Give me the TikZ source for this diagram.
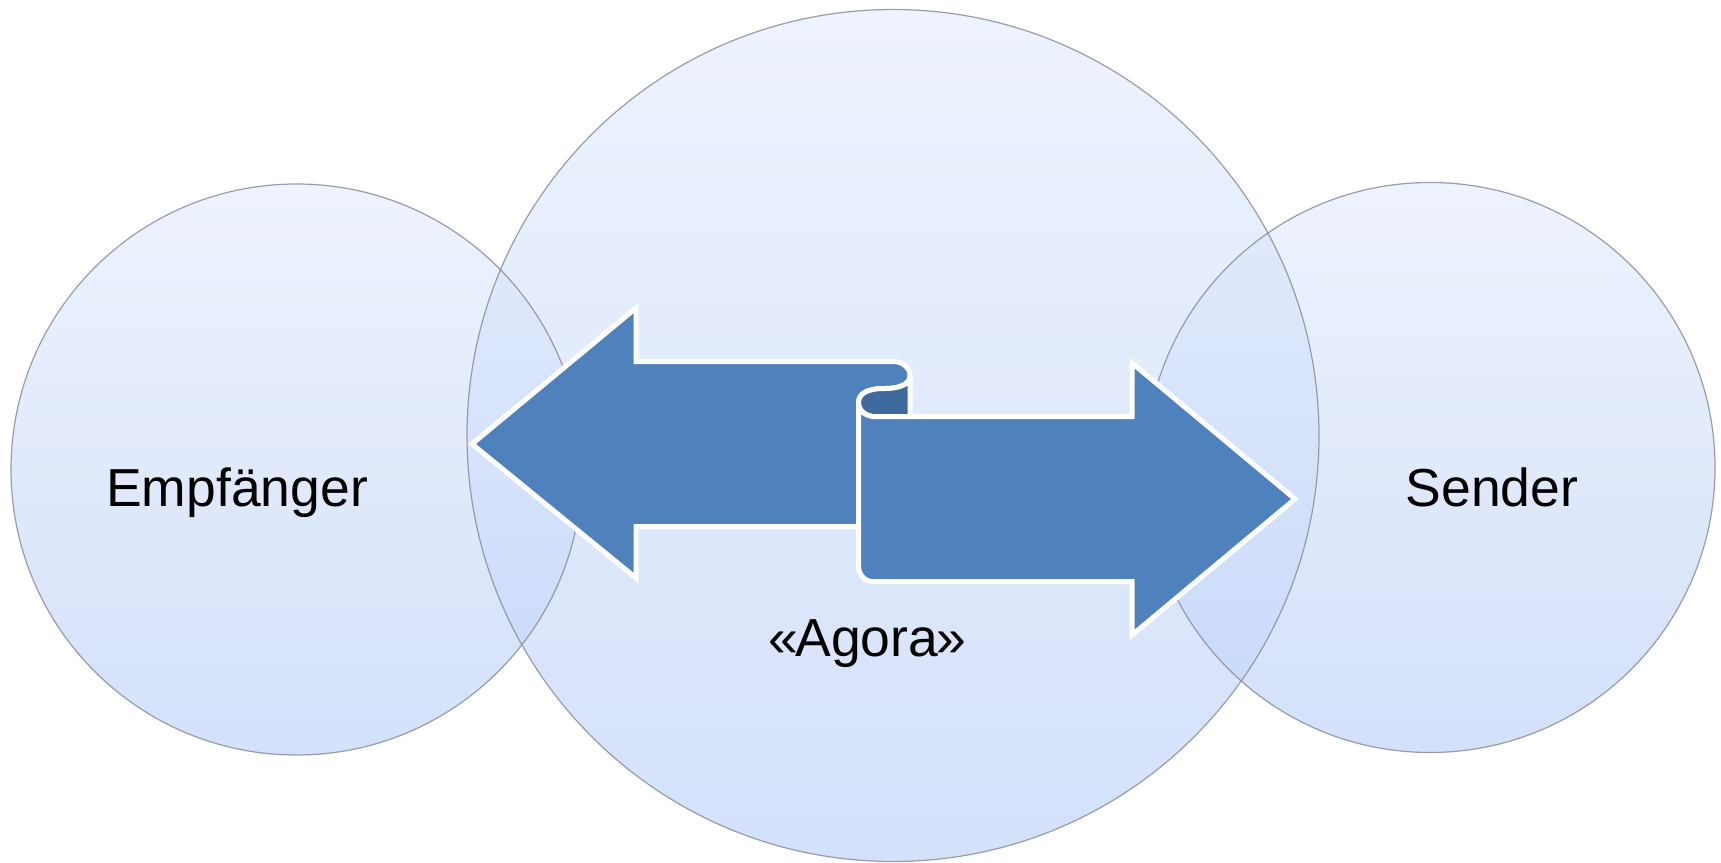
\documentclass[tikz,border=0pt]{standalone}
\usepackage{fontspec}
\setmainfont{Liberation Sans}
\definecolor{ctop}{RGB}{229,237,252}
\definecolor{cbot}{RGB}{189,209,249}
\definecolor{ringline}{RGB}{140,140,156}
\definecolor{arrowblue}{RGB}{79,129,189}
\definecolor{curldark}{RGB}{63,106,158}
\tikzset{
  bubble/.style={top color=ctop, bottom color=cbot, fill opacity=0.65},
  bubbleline/.style={draw=ringline, line width=1.2pt, draw opacity=0.85},
  arrowshape/.style={fill=arrowblue, draw=white, line width=5pt, line join=miter},
  curlshape/.style={fill=curldark, draw=white, line width=5pt, line join=round},
  label/.style={font=\fontsize{53.5}{62}\selectfont, text=black, anchor=base, inner sep=0pt}
}
\begin{document}
\begin{tikzpicture}[x=1pt,y=-1pt]
\useasboundingbox (0,0) rectangle (1721,862);
\fill[white] (0,0) rectangle (1721,862);
% circles
\shade[bubble] (296.5,469.5) circle[radius=285.5];
\shade[bubble] (1430,467.5) circle[radius=285];
\shade[bubble] (893,435.5) circle[radius=426];
\draw[bubbleline] (296.5,469.5) circle[radius=285.5];
\draw[bubbleline] (1430,467.5) circle[radius=285];
\draw[bubbleline] (893,435.5) circle[radius=426];
% left arrow
\draw[arrowshape] (472,444) -- (636,308) -- (636,361.5) -- (893,361.5)
  .. controls (902.5,361.5) and (910,367.5) .. (910,376)
  .. controls (910,385) and (898,388.5) .. (885,388.5)
  .. controls (868,388.5) and (858.5,393) .. (858.5,403)
  -- (858.5,526.7) -- (636,526.7) -- (636,578) -- cycle;
% inner curl
\draw[curlshape] (910,376) -- (910,416.7) -- (876,416.7)
  .. controls (866,416.7) and (858.5,411) .. (858.5,403)
  .. controls (858.5,393) and (868,388.5) .. (885,388.5)
  .. controls (898,388.5) and (910,385) .. (910,376) -- cycle;
% right arrow
\draw[arrowshape] (858.5,403) -- (858.5,566)
  .. controls (858.5,575) and (865,581.7) .. (874,581.7)
  -- (1132,581.7) -- (1132,635) -- (1295,499) -- (1132,363) -- (1132,416.7)
  -- (876,416.7)
  .. controls (866,416.7) and (858.5,411) .. (858.5,403) -- cycle;
% labels
\node[label] (empf) at (237,506.5) {Empfänger};
\node[label] (send) at (1492,506) {Sender};
\node[label] (agora) at (867.5,656) {«\kern-3pt Agora\kern-1.5pt»};
\end{tikzpicture}
\end{document}
